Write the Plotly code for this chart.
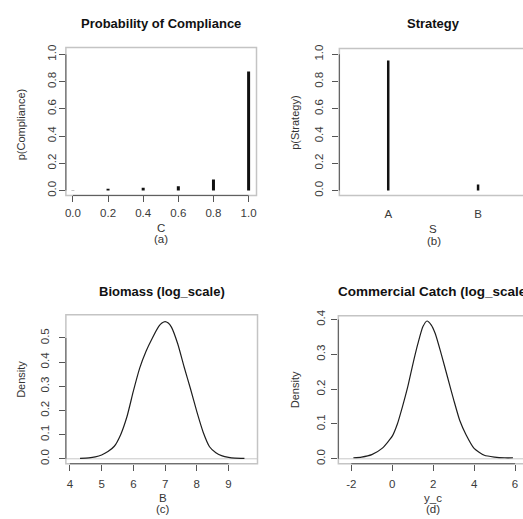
import plotly.graph_objects as go

W, H = 523, 519

# ---------------- data ----------------
compliance_levels = [0.0, 0.2, 0.4, 0.6, 0.8, 1.0]
p_compliance = [0.002, 0.012, 0.02, 0.032, 0.08, 0.875]

strategy_labels = ["A", "B"]
strategy_pos = [1, 2]
p_strategy = [0.955, 0.045]

biomass_B = [4.32, 4.6, 4.8, 5.0, 5.2, 5.4, 5.6, 5.8, 6.0, 6.2, 6.4, 6.6, 6.8, 6.9,
             7.0, 7.1, 7.2, 7.4, 7.6, 7.8, 8.0, 8.2, 8.4, 8.6, 8.8, 9.0, 9.2, 9.5]
biomass_density = [0.002, 0.004, 0.008, 0.016, 0.03, 0.052, 0.1, 0.175, 0.28, 0.375,
                   0.445, 0.5, 0.548, 0.562, 0.568, 0.562, 0.545, 0.475, 0.38, 0.29,
                   0.195, 0.11, 0.05, 0.025, 0.012, 0.006, 0.003, 0.002]

catch_yc = [-1.9, -1.5, -1.0, -0.5, 0.0, 0.25, 0.5, 0.75, 1.0, 1.25, 1.5, 1.7, 1.9,
            2.1, 2.4, 2.7, 3.0, 3.3, 3.6, 4.0, 4.5, 5.0, 5.5, 5.9]
catch_density = [0.003, 0.005, 0.012, 0.03, 0.065, 0.1, 0.15, 0.205, 0.27, 0.33, 0.38,
                 0.396, 0.385, 0.36, 0.3, 0.235, 0.17, 0.11, 0.07, 0.03, 0.01, 0.005,
                 0.003, 0.003]

prob_ticks = [0.0, 0.2, 0.4, 0.6, 0.8, 1.0]
biomass_xticks = [4, 5, 6, 7, 8, 9]
biomass_yticks = [0.0, 0.1, 0.2, 0.3, 0.4, 0.5]
catch_xticks = [-2, 0, 2, 4, 6]
catch_yticks = [0.0, 0.1, 0.2, 0.3, 0.4]

# ---------------- layout geometry ----------------
def px_x(p):
    return p / W

def px_y(p):
    return 1 - p / H

panels = {
    "a": dict(x=[px_x(65), px_x(256)], y=[px_y(192), px_y(42)],
              xr=[-0.04, 1.045], yr=[-0.036, 1.051], xa="x", ya="y"),
    "b": dict(x=[px_x(339), 1.0], y=[px_y(192), px_y(43)],
              xr=[0.456, 2.5], yr=[-0.036, 1.043], xa="x2", ya="y2"),
    "c": dict(x=[px_x(65), px_x(257)], y=[px_y(464), px_y(313)],
              xr=[3.874, 9.912], yr=[-0.0204, 0.596], xa="x3", ya="y3"),
    "d": dict(x=[px_x(338), 1.0], y=[px_y(464), px_y(314)],
              xr=[-2.634, 6.39], yr=[-0.0142, 0.411], xa="x4", ya="y4"),
}

def to_paper_x(key, v):
    p = panels[key]
    return p["x"][0] + (v - p["xr"][0]) / (p["xr"][1] - p["xr"][0]) * (p["x"][1] - p["x"][0])

def to_paper_y(key, v):
    p = panels[key]
    return p["y"][0] + (v - p["yr"][0]) / (p["yr"][1] - p["yr"][0]) * (p["y"][1] - p["y"][0])

def spikes(xs, ys):
    X, Y = [], []
    for x, y in zip(xs, ys):
        X += [x, x, None]
        Y += [0, y, None]
    return X, Y

fig = go.Figure()

LINE = "#1e1e1e"
AXC = "#555555"
BOXC = "#c4c4c4"
FONT = "Liberation Sans, Arial, sans-serif"
TICKFONT = dict(family=FONT, size=11.5, color="#3a3a3a")

xa, ya = spikes(compliance_levels, p_compliance)
fig.add_trace(go.Scatter(x=xa, y=ya, mode="lines", line=dict(color="#111111", width=3),
                         xaxis="x", yaxis="y", showlegend=False, hoverinfo="skip"))

xb, yb = spikes(strategy_pos, p_strategy)
fig.add_trace(go.Scatter(x=xb, y=yb, mode="lines", line=dict(color="#111111", width=2.5),
                         xaxis="x2", yaxis="y2", showlegend=False, hoverinfo="skip"))

fig.add_trace(go.Scatter(x=biomass_B, y=biomass_density, mode="lines",
                         line=dict(color=LINE, width=1.2, shape="spline", smoothing=0.6),
                         xaxis="x3", yaxis="y3", showlegend=False, hoverinfo="skip"))

fig.add_trace(go.Scatter(x=catch_yc, y=catch_density, mode="lines",
                         line=dict(color=LINE, width=1.2, shape="spline", smoothing=0.6),
                         xaxis="x4", yaxis="y4", showlegend=False, hoverinfo="skip"))

def xaxis(key, tickvals, ticktext, ticks="outside", standoff=6):
    p = panels[key]
    return dict(domain=p["x"], range=p["xr"], anchor=p["ya"], tickvals=tickvals,
                ticktext=ticktext, ticks=ticks, ticklen=6, tickwidth=1, tickcolor=AXC,
                showline=False, showgrid=False, zeroline=False, tickfont=TICKFONT,
                ticklabelstandoff=standoff, ticklabeloverflow="allow", fixedrange=True)

def yaxis(key, tickvals, ticktext, standoff=2):
    p = panels[key]
    return dict(domain=p["y"], range=p["yr"], anchor=p["xa"], tickvals=tickvals,
                ticktext=ticktext, ticks="outside", ticklen=6, tickwidth=1, tickcolor=AXC,
                showline=False, showgrid=False, zeroline=False, tickfont=TICKFONT,
                tickangle=-90, ticklabelstandoff=standoff, fixedrange=True)

fmt1 = lambda vals: [f"{v:.1f}" for v in vals]
fmti = lambda vals: [str(v) for v in vals]

fig.update_layout(
    width=W, height=H, autosize=False,
    margin=dict(l=0, r=0, t=0, b=0, pad=0),
    paper_bgcolor="white", plot_bgcolor="white",
    xaxis=xaxis("a", prob_ticks, fmt1(prob_ticks), standoff=1),
    yaxis=yaxis("a", prob_ticks, fmt1(prob_ticks), standoff=-2),
    xaxis2=xaxis("b", strategy_pos, strategy_labels, ticks="", standoff=10),
    yaxis2=yaxis("b", prob_ticks, fmt1(prob_ticks), standoff=5),
    xaxis3=xaxis("c", biomass_xticks, fmti(biomass_xticks), standoff=3),
    yaxis3=yaxis("c", biomass_yticks, fmt1(biomass_yticks), standoff=5),
    xaxis4=xaxis("d", catch_xticks, fmti(catch_xticks), standoff=3),
    yaxis4=yaxis("d", catch_yticks, fmt1(catch_yticks), standoff=2),
)

shapes = []
# light box around each plot region
for key in ["a", "b", "c", "d"]:
    p = panels[key]
    x1 = p["x"][1] if p["x"][1] < 1 else 1.02
    shapes.append(dict(type="rect", xref="paper", yref="paper",
                       x0=p["x"][0], x1=x1, y0=p["y"][0], y1=p["y"][1],
                       line=dict(color=BOXC, width=1.5), layer="below"))

# zero lines for density plots
for ax in ["3", "4"]:
    shapes.append(dict(type="line", xref=f"x{ax} domain", yref=f"y{ax}",
                       x0=0, x1=1, y0=0, y1=0, line=dict(color="#c8c8c8", width=1),
                       layer="below"))

# R-style axis lines spanning the tick range
def yline(key, lo, hi):
    x0 = panels[key]["x"][0]
    shapes.append(dict(type="line", xref="paper", yref="paper",
                       x0=x0, x1=x0, y0=to_paper_y(key, lo), y1=to_paper_y(key, hi),
                       line=dict(color=AXC, width=1)))

def xline(key, lo, hi):
    y0 = panels[key]["y"][0]
    shapes.append(dict(type="line", xref="paper", yref="paper",
                       x0=to_paper_x(key, lo), x1=to_paper_x(key, hi), y0=y0, y1=y0,
                       line=dict(color=AXC, width=1)))

yline("a", prob_ticks[0], prob_ticks[-1])
xline("a", prob_ticks[0], prob_ticks[-1])
yline("b", prob_ticks[0], prob_ticks[-1])
yline("c", biomass_yticks[0], biomass_yticks[-1])
xline("c", biomass_xticks[0], biomass_xticks[-1])
yline("d", catch_yticks[0], catch_yticks[-1])
xline("d", catch_xticks[0], catch_xticks[-1])

fig.update_layout(shapes=shapes)

ann = []
def text(s, x, y, size=11.5, bold=False, angle=0, color="#333333"):
    ann.append(dict(text=f"<b>{s}</b>" if bold else s, x=px_x(x), y=px_y(y),
                    xref="paper", yref="paper", showarrow=False, xanchor="center",
                    yanchor="middle", textangle=angle,
                    font=dict(family=FONT, size=size, color="#111111" if bold else color)))

# titles
text("Probability of Compliance", 160, 18, size=13, bold=True)
text("Strategy", 433, 18, size=13, bold=True)
text("Biomass (log_scale)", 161, 289, size=13, bold=True)
text("Commercial Catch (log_scale)", 434, 289, size=13.5, bold=True)

# axis labels
text("p(Compliance)", 20, 120, size=11, angle=-90)
text("C", 160.5, 225)
text("(a)", 160.5, 236)
text("p(Strategy)", 295, 118, size=11, angle=-90)
text("S", 433, 226)
text("(b)", 434, 238)
text("Density", 20, 378, size=11, angle=-90)
text("B", 162, 499)
text("(c)", 162, 510)
text("Density", 294, 389, size=11, angle=-90)
text("y_c", 433, 499)
text("(d)", 433, 510)

fig.update_layout(annotations=ann)

fig.write_html("out.html", config={"displayModeBar": False},
               post_script="document.body.style.margin='0px';"
                           "document.body.style.overflow='hidden';")
